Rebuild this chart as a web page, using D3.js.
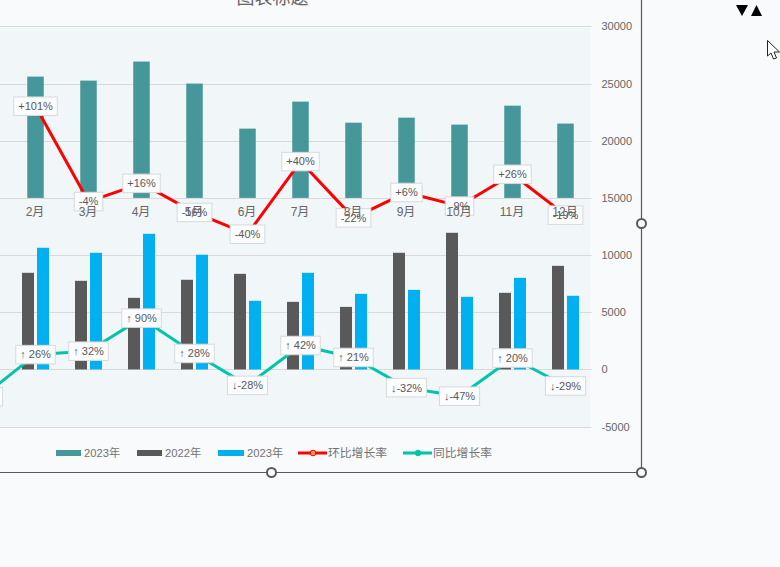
<!DOCTYPE html>
<html>
<head>
<meta charset="utf-8">
<script src="https://cdn.jsdelivr.net/npm/d3@7"></script>
<style>
    html, body { margin: 0; padding: 0; background: #f8fafc; overflow: hidden; }
    text { font-family: "Liberation Sans", "Noto Sans CJK SC", sans-serif; }
</style>
</head>
<body>
<div id="canvas"></div>
<script>
var months = ['1月', '2月', '3月', '4月', '5月', '6月', '7月', '8月', '9月', '10月', '11月', '12月'];
var yTicks = [-5000, 0, 5000, 10000, 15000, 20000, 25000, 30000];

// values (1月 sits outside the frame, so it is a guess)
var upper2023 = [20290, 25610, 25260, 26925, 25000, 21060, 23420, 21580, 22020, 21410, 23070, 21500];
var lower2022 = [10170, 8450, 7750, 6260, 7840, 8360, 5910, 5470, 10200, 11950, 6700, 9060];
var lower2023 = [5290, 10640, 10200, 11860, 10030, 6000, 8450, 6610, 6960, 6350, 8010, 6440];
var momRates = [null, 101, -4, 16, -16, -40, 40, -22, 6, -9, 26, -19];
var yoyRates = [-48, 26, 32, 90, 28, -28, 42, 21, -32, -47, 20, -29];

var upperBase = 15000;

var svg = d3.select('#canvas').append('svg')
    .attr('width', 780)
    .attr('height', 567)
    .style('display', 'block');

var x = d3.scaleBand().domain(months).range([-44, 592]);
var y = d3.scaleLinear().domain([-5000, 30000]).range([426.6, 26.4]);

// the two rate lines each have their own hidden axis, zero on the pane's base line
var yMom = d3.scaleLinear().domain([0, 100]).range([y(upperBase), y(upperBase) - 90.8]);
var yYoy = d3.scaleLinear().domain([0, 100]).range([y(0), y(0) - 57]);

var center = function(m) { return x(m) + x.bandwidth() / 2; };
var pair = d3.scaleBand().domain(['2022', '2023']).range([-13.5, 13.5]).paddingInner(0.2);

// plot background
svg.append('rect')
    .attr('x', 0).attr('y', 28)
    .attr('width', 590).attr('height', 399)
    .attr('fill', '#f1f6f9');

// title, mostly cut off by the top of the window
svg.append('text')
    .attr('x', 272.5).attr('y', 4)
    .attr('text-anchor', 'middle')
    .attr('font-size', 18)
    .attr('fill', '#666')
    .text('图表标题');

// grid
svg.append('g').selectAll('line').data(yTicks).enter().append('line')
    .attr('x1', 0).attr('x2', 591.5)
    .attr('y1', function(d) { return Math.round(y(d)) + 0.5; })
    .attr('y2', function(d) { return Math.round(y(d)) + 0.5; })
    .attr('stroke', '#d9d9d9');

// y axis labels
var yAxis = svg.append('g')
    .attr('transform', 'translate(591.5,0)')
    .call(d3.axisRight(y).tickValues(yTicks).tickSize(0).tickPadding(10).tickFormat(function(d) { return String(d); }));
yAxis.select('.domain').remove();
yAxis.selectAll('text').attr('font-size', 11).attr('fill', '#666');

// bars
var drawBars = function(values, base, barX, barWidth, color) {
    svg.append('g').selectAll('rect').data(values).enter().append('rect')
        .attr('x', function(d, i) { return barX(months[i]); })
        .attr('width', barWidth)
        .attr('y', function(d) { return y(d); })
        .attr('height', function(d) { return y(base) - y(d); })
        .attr('fill', color);
};
drawBars(upper2023, upperBase, function(m) { return center(m) - 8.25; }, 16.5, '#459799');
drawBars(lower2022, 0, function(m) { return center(m) + pair('2022'); }, pair.bandwidth(), '#595959');
drawBars(lower2023, 0, function(m) { return center(m) + pair('2023'); }, pair.bandwidth(), '#00b0f0');

// rate lines
var drawLine = function(values, scale, color) {
    var line = d3.line()
        .defined(function(d) { return d !== null; })
        .x(function(d, i) { return center(months[i]); })
        .y(function(d) { return scale(d); });
    svg.append('path')
        .attr('d', line(values))
        .attr('fill', 'none')
        .attr('stroke', color)
        .attr('stroke-width', 3)
        .attr('stroke-linejoin', 'round');
};
drawLine(momRates, yMom, '#ff0000');
drawLine(yoyRates, yYoy, '#00c5a8');

// data labels, the box sizes itself to the text
var drawLabels = function(values, scale, format) {
    values.forEach(function(d, i) {
        if (d === null) return;
        var g = svg.append('g')
            .attr('transform', 'translate(' + center(months[i]) + ',' + scale(d) + ')');
        var box = g.append('rect');
        var t = g.append('text')
            .attr('text-anchor', 'middle')
            .attr('dy', '0.35em')
            .attr('font-size', 11)
            .attr('fill', '#595959')
            .text(format(d));
        var w = t.node().getComputedTextLength() + 9;
        box.attr('x', -w / 2).attr('y', -9.25)
            .attr('width', w).attr('height', 18.5)
            .attr('fill', '#fbfcfd')
            .attr('stroke', '#d9d9d9');
    });
};
drawLabels(momRates, yMom, function(d) { return (d > 0 ? '+' : '') + d + '%'; });
drawLabels(yoyRates, yYoy, function(d) { return (d > 0 ? '↑ ' : '↓') + d + '%'; });

// month labels go on top of the data labels, as in the original
var xAxis = svg.append('g')
    .attr('transform', 'translate(-0.5,' + y(upperBase) + ')')
    .call(d3.axisBottom(x).tickSize(0).tickPadding(10));
xAxis.select('.domain').remove();
xAxis.selectAll('text').attr('font-size', 12).attr('fill', '#666');

// legend
var legendBars = [
    { name: '2023年', color: '#459799', x: 56, w: 25 },
    { name: '2022年', color: '#595959', x: 137, w: 25 },
    { name: '2023年', color: '#00b0f0', x: 218, w: 26 }
];
var legendLines = [
    { name: '环比增长率', color: '#ff0000', dot: '#e8a04a', x: 298 },
    { name: '同比增长率', color: '#00c5a8', dot: '#00c5a8', x: 403 }
];
var legendText = function(label, lx, size) {
    svg.append('text')
        .attr('x', lx).attr('y', 456.5)
        .attr('font-size', size)
        .attr('fill', '#737373')
        .text(label);
};
legendBars.forEach(function(d) {
    svg.append('rect')
        .attr('x', d.x).attr('y', 450)
        .attr('width', d.w).attr('height', 6)
        .attr('fill', d.color);
    legendText(d.name, d.x + d.w + 3, 11.2);
});
legendLines.forEach(function(d) {
    svg.append('line')
        .attr('x1', d.x).attr('x2', d.x + 29)
        .attr('y1', 453).attr('y2', 453)
        .attr('stroke', d.color).attr('stroke-width', 3);
    svg.append('circle')
        .attr('cx', d.x + 15).attr('cy', 453).attr('r', 2.8)
        .attr('fill', d.dot)
        .attr('stroke', d.color).attr('stroke-width', 1);
    legendText(d.name, d.x + 30, 11.8);
});

// selection frame and handles around the chart object
svg.append('path')
    .attr('d', 'M641.5,0V472.5H0')
    .attr('fill', 'none')
    .attr('stroke', '#595959')
    .attr('stroke-width', 1.2);
[[641.5, 223.5], [271.5, 472.5], [641.5, 472.5]].forEach(function(p) {
    svg.append('circle')
        .attr('cx', p[0]).attr('cy', p[1]).attr('r', 4.5)
        .attr('fill', '#f8fafc')
        .attr('stroke', '#595959')
        .attr('stroke-width', 2);
});

// little sort arrows and the mouse pointer
svg.append('path').attr('d', 'M736,5H748L742,16Z').attr('fill', '#000');
svg.append('path').attr('d', 'M751,16H762L756.5,5Z').attr('fill', '#000');
svg.append('path')
    .attr('d', 'M767.5,40.5V56L771,53L773.5,59L776.5,58L774,52H779.5Z')
    .attr('fill', '#fff')
    .attr('stroke', '#222')
    .attr('stroke-width', 1);
</script>
</body>
</html>
